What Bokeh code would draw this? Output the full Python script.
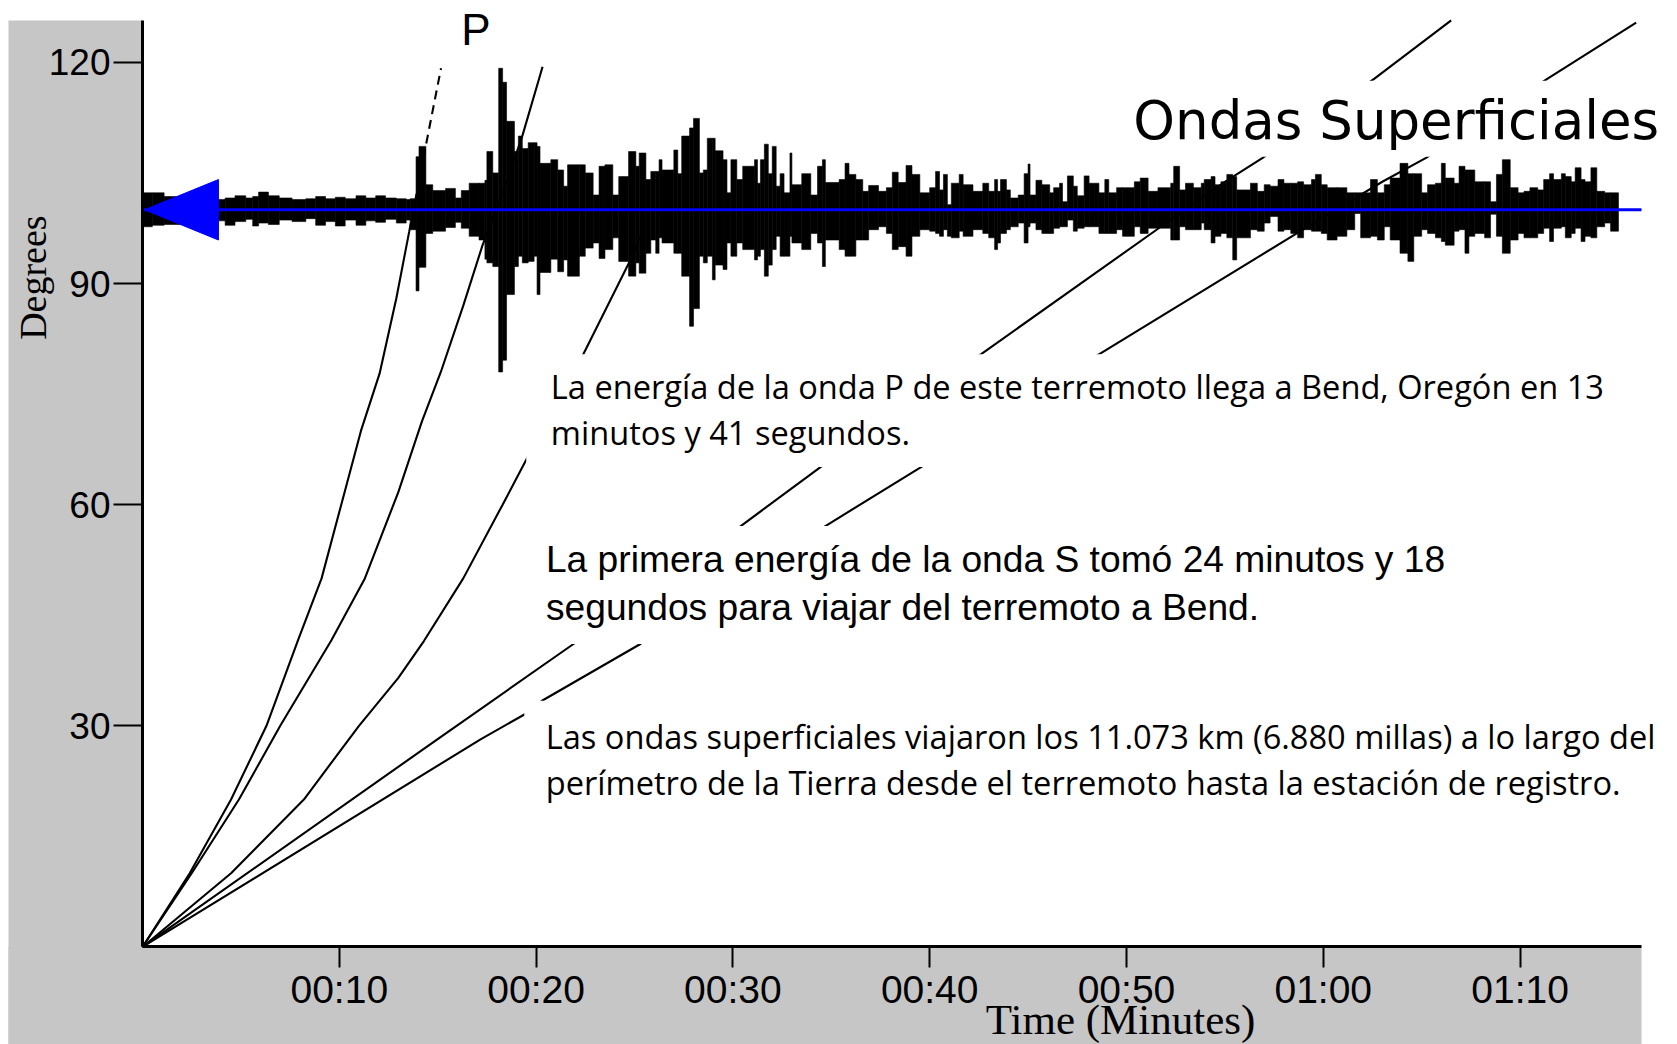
import math
from bokeh.plotting import figure
from bokeh.models import Range1d, FixedTicker, Label, ColumnDataSource
from bokeh.embed import file_html
from bokeh.resources import INLINE

# ---------------- data ----------------
# travel-time curves: time (minutes) vs distance (degrees)
p_time = [0, 2.4, 4.5, 6.3, 7.9, 9.1, 10.1, 11.1, 12.05, 12.9, 13.55]
p_deg = [0, 10, 20, 30, 41.6, 50, 60, 70, 77.8, 88, 97.0]
p_top_time = [13.55, 14.5, 15.17]
p_top_deg = [97.0, 110.1, 119.2]

pp_time = [0, 2.5, 4.9, 7.0, 9.6, 11.3, 13.0, 14.2, 15.16, 16.3, 17.28, 18.4, 19.31, 20.33]
pp_deg = [0, 10, 20, 30, 41.6, 50, 61.7, 71.3, 78.0, 87, 95.2, 103, 110.1, 119.4]

s_time = [0, 4.5, 8.2, 11.0, 13.0, 14.3, 16.3, 18.3, 19.64, 22.4, 24.85, 25.3]
s_deg = [0, 10, 20, 30, 36.5, 41.5, 50, 60, 66.8, 80.4, 93.5, 96.5]

love_time = [0, 15.0, 21.9, 30.4, 34.4, 42.6, 51.8, 55.0, 56.9, 62.6, 66.5]
love_deg = [0, 28.2, 41.1, 57.1, 65.0, 80.4, 97.8, 103.8, 107.0, 117.8, 125.7]

rayl_time = [0, 17.2, 19.45, 20.3, 25.3, 34.7, 39.5, 48.6, 58.9, 63.0, 65.2, 71.4, 75.9]
rayl_deg = [0, 28.2, 31.6, 33.4, 41.1, 57.1, 65.0, 80.4, 97.2, 103.8, 107.0, 117.8, 125.4]

# seismogram envelope (bar start time in minutes, top and bottom in degrees)
trace_t = [0.0, 0.5, 1.1, 2.0, 3.8, 4.2, 4.7, 5.25, 5.6, 5.9, 6.4, 6.95, 7.6, 8.3, 8.8, 9.3, 9.8,
           10.3, 10.85, 11.35, 11.85, 12.35, 12.9, 13.4, 13.6, 13.9, 14.05, 14.4, 14.75, 15.4, 15.9,
           16.2, 16.6, 17.1, 17.4, 17.5, 17.8, 18.1, 18.3, 18.5, 18.9, 19.1, 19.3, 19.6, 19.9, 20.05,
           20.2, 20.75, 21.1, 21.4, 21.6, 22.2, 22.5, 22.9, 23.2, 23.5, 23.9, 24.2, 24.7, 25.07,
           25.24, 25.58, 25.83, 26.08, 26.25, 26.4, 27.0, 27.2, 27.4, 27.8, 28.0, 28.3, 28.5, 28.7,
           28.96, 29.1, 29.5, 29.7, 29.9, 30.2, 30.5, 31.1, 31.25, 31.4, 31.6, 31.8, 32.0, 32.2,
           32.4, 32.6, 32.9, 33.0, 33.5, 33.96, 34.3, 34.55, 34.7, 35.4, 35.7, 35.9, 36.25, 36.6,
           36.9, 37.4, 37.8, 38.1, 38.4, 38.8, 39.1, 39.5, 40.0, 40.3, 40.5, 40.7, 40.9, 41.1,
           41.5, 41.7, 42.2, 42.7, 43.0, 43.3, 43.45, 43.6, 43.9, 44.1, 44.5, 44.8, 45.0, 45.1,
           45.4, 45.7, 46.1, 46.3, 46.6, 46.75, 47.0, 47.3, 47.5, 47.85, 48.1, 48.6, 48.9, 49.1,
           49.5, 49.8, 50.4, 50.7, 51.1, 51.6, 52.25, 52.4, 52.7, 53.0, 53.4, 53.8, 53.95, 54.3,
           54.5, 54.8, 55.1, 55.4, 55.6, 56.3, 56.65, 57.0, 57.3, 57.7, 58.0, 58.35, 58.7, 59.0,
           59.4, 59.6, 59.9, 60.2, 60.7, 61.2, 61.6, 61.9, 62.4, 62.75, 63.1, 63.4, 63.9, 64.3,
           64.6, 65.0, 65.3, 65.7, 66.0, 66.2, 66.65, 66.9, 67.2, 67.4, 67.7, 68.2, 68.5, 68.8,
           69.1, 69.5, 69.9, 70.2, 70.5, 70.9, 71.2, 71.5, 71.7, 72.1, 72.3, 72.6, 72.8, 73.1,
           73.3, 73.6, 73.9, 74.3, 74.6]
trace_end = 75.0
trace_hi = [102.3, 102.3, 101.8, 101.6, 101.4, 101.6, 101.9, 101.6, 101.8, 102.4, 101.9, 101.6, 101.4,
            101.5, 101.8, 101.5, 101.7, 101.5, 101.9, 101.6, 101.9, 101.6, 101.5, 101.4, 101.5, 107.2,
            108.6, 103.4, 102.6, 102.9, 101.6, 102.6, 103.6, 103.6, 104.0, 107.9, 105.0, 119.2, 117.3,
            112.0, 107.9, 110.0, 108.3, 109.1, 109.1, 108.6, 106.3, 106.8, 105.4, 103.2, 106.1, 106.1,
            105.0, 102.0, 105.9, 106.1, 102.0, 104.5, 107.9, 105.9, 107.7, 104.1, 105.2, 105.2, 106.8,
            105.4, 108.1, 104.9, 110.0, 111.1, 112.4, 105.0, 105.4, 109.7, 109.7, 108.0, 106.8, 102.3,
            106.8, 104.1, 105.9, 106.8, 103.6, 106.8, 108.9, 104.9, 108.6, 103.2, 104.9, 102.3, 107.7,
            103.4, 104.9, 102.0, 105.9, 106.8, 103.7, 104.1, 106.3, 104.8, 104.1, 102.5, 103.3, 102.5,
            103.0, 105.1, 103.7, 106.0, 104.8, 102.3, 103.0, 105.2, 102.7, 104.8, 100.7, 103.6, 104.8,
            103.4, 102.5, 103.6, 102.5, 104.1, 102.5, 104.1, 102.7, 101.6, 102.0, 104.9, 106.2, 102.0,
            104.0, 103.4, 102.3, 103.0, 103.6, 101.1, 104.6, 103.2, 101.9, 104.6, 103.6, 102.3, 104.1,
            102.3, 103.0, 103.0, 103.8, 104.3, 102.5, 103.0, 103.6, 105.9, 102.7, 103.6, 103.0, 103.6,
            104.1, 104.5, 103.4, 103.8, 104.8, 104.5, 102.7, 103.6, 102.5, 103.4, 103.2, 104.1, 103.6,
            103.6, 103.8, 103.4, 104.1, 104.8, 103.4, 103.0, 103.0, 102.3, 102.3, 102.3, 104.1, 102.3,
            103.4, 104.3, 106.3, 104.9, 104.9, 102.3, 103.4, 103.6, 106.3, 104.3, 103.6, 105.9, 105.4,
            105.4, 103.8, 103.8, 101.1, 104.8, 106.8, 103.0, 102.3, 102.5, 103.0, 102.7, 104.1, 104.9,
            104.1, 104.9, 104.5, 103.8, 105.7, 104.1, 103.8, 105.7, 102.5, 102.3, 102.3]
trace_lo = [97.7, 97.9, 98.0, 98.2, 98.5, 97.9, 98.4, 98.7, 97.8, 98.2, 98.0, 98.6, 98.4, 98.8, 97.9,
            98.4, 97.8, 98.6, 97.9, 98.5, 98.3, 98.7, 98.2, 98.6, 97.3, 89.0, 92.2, 96.8, 97.1, 97.6,
            98.3, 97.5, 96.4, 95.9, 93.3, 92.8, 92.3, 78.0, 79.6, 88.5, 92.3, 93.7, 92.8, 93.0, 93.7,
            88.5, 91.5, 93.3, 91.6, 93.2, 91.0, 93.7, 94.8, 95.5, 93.4, 94.6, 96.2, 93.0, 91.0, 92.8,
            91.4, 94.1, 95.9, 94.1, 96.2, 95.5, 94.1, 94.1, 91.0, 84.2, 86.6, 93.7, 92.8, 93.7, 90.5,
            92.5, 91.9, 95.5, 93.7, 95.5, 94.6, 93.2, 93.7, 94.6, 91.0, 92.5, 94.6, 96.4, 93.7, 93.7,
            96.4, 95.5, 94.6, 96.8, 95.5, 92.3, 95.9, 94.6, 93.7, 93.7, 95.9, 95.9, 97.3, 97.7, 96.8,
            94.6, 95.0, 93.7, 96.4, 97.3, 97.1, 96.8, 96.4, 97.3, 96.4, 96.2, 97.1, 96.4, 97.3, 96.8,
            96.2, 94.6, 95.5, 96.8, 97.3, 97.7, 98.2, 95.5, 97.7, 98.2, 97.3, 96.8, 96.8, 97.5, 97.7,
            97.7, 98.6, 97.1, 97.5, 97.7, 97.7, 96.8, 96.8, 96.8, 97.3, 96.4, 97.7, 96.8, 97.5, 97.5,
            95.9, 95.9, 97.7, 97.3, 97.3, 98.2, 97.3, 95.5, 96.4, 96.8, 96.2, 93.2, 96.2, 97.3, 97.1,
            98.2, 99.1, 97.1, 97.3, 96.8, 96.2, 97.3, 97.1, 97.1, 96.8, 95.9, 96.4, 97.3, 99.5, 96.2,
            96.4, 95.9, 97.7, 95.9, 94.1, 93.0, 96.4, 97.3, 96.8, 96.2, 95.7, 95.2, 97.1, 97.3, 94.1,
            96.4, 96.8, 96.2, 99.4, 96.4, 94.1, 95.9, 96.8, 96.2, 96.2, 96.8, 97.5, 95.7, 97.5, 97.7,
            96.2, 96.8, 97.5, 95.7, 96.4, 96.2, 97.7, 98.2, 97.1]

baseline_deg = 100
arrow_time = [0.1, 3.86, 3.86]
arrow_deg = [100, 104.1, 95.9]

x_ticks = [10, 20, 30, 40, 50, 60, 70]
x_tick_labels = ["00:10", "00:20", "00:30", "00:40", "00:50", "01:00", "01:10"]
y_ticks = [30, 60, 90, 120]
y_tick_labels = ["30", "60", "90", "120"]

text_p = ["La energía de la onda P de este terremoto llega a Bend, Oregón en 13",
          "minutos y 41 segundos."]
text_s = ["La primera energía de la onda S tomó 24 minutos y 18",
          "segundos para viajar del terremoto a Bend."]
text_surf = ["Las ondas superficiales viajaron los 11.073 km (6.880 millas) a lo largo del",
             "perímetro de la Tierra desde el terremoto hasta la estación de registro."]

# ---------------- figure ----------------
GRAY = "#c6c6c6"
X_END = 76.17      # end of the time axis
Y_TOP = 125.68     # top of the degree axis
p = figure(width=1677, height=1044, x_range=Range1d(-7.215, 78.0), y_range=Range1d(-13.23, 128.39),
           output_backend="svg", toolbar_location=None, title=None, min_border=0)
p.border_fill_color = "white"
p.background_fill_color = "white"
p.outline_line_color = None
p.xgrid.visible = False
p.ygrid.visible = False

# gray panel (left strip and bottom strip)
p.quad(left=[-6.81, -6.81], right=[0, X_END], bottom=[-13.3, -13.3], top=[Y_TOP, 0],
       fill_color=GRAY, line_color=None)

for ax, ticks, labels, tick_out, standoff, size, bnds in (
        (p.xaxis[0], x_ticks, x_tick_labels, 21, 0, "39px", (0, X_END)),
        (p.yaxis[0], y_ticks, y_tick_labels, 29, 3, "37px", (0, Y_TOP))):
    ax.fixed_location = 0
    ax.bounds = bnds
    ax.ticker = FixedTicker(ticks=ticks)
    ax.major_label_overrides = {t: l for t, l in zip(ticks, labels)}
    ax.axis_line_width = 3
    ax.axis_line_color = "black"
    ax.major_tick_line_width = 2
    ax.major_tick_out = tick_out
    ax.major_tick_in = 0
    ax.minor_tick_line_color = None
    ax.major_label_standoff = standoff
    ax.major_label_text_font = "Liberation Sans"
    ax.major_label_text_font_size = size
    ax.major_label_text_color = "black"

# travel-time curves
for tt, dd in ((p_time, p_deg), (pp_time, pp_deg), (s_time, s_deg),
               (love_time, love_deg), (rayl_time, rayl_deg)):
    p.line(tt, dd, line_color="black", line_width=2.1)
p.line(p_top_time, p_top_deg, line_color="black", line_width=2.1, line_dash="9 6")

# white text boxes hiding the curves
p.quad(left=[19.5, 19.5, 19.4, 49.5], right=[75.0, 68.0, 78.0, 78.0],
       bottom=[65.1, 41.1, 14.0, 107.2], top=[80.4, 57.1, 33.4, 117.5],
       fill_color="white", line_color=None)

# seismogram
src = ColumnDataSource(dict(left=trace_t, right=trace_t[1:] + [trace_end], top=trace_hi, bottom=trace_lo))
p.quad(left="left", right="right", top="top", bottom="bottom", source=src,
       fill_color="black", line_color="black", line_width=0.6)

p.line([0, X_END], [baseline_deg, baseline_deg], line_color="#0000ff", line_width=3)
p.patch(arrow_time, arrow_deg, fill_color="#0000ff", line_color="#0000ff")

# texts
def add_label(x, y, text, font, size, align="left", baseline="alphabetic", angle=0):
    p.add_layout(Label(x=x, y=y, text=text, text_font=font, text_font_size=size,
                       text_align=align, text_baseline=baseline, angle=angle, text_color="black"))

add_label(16.94, 124.4, "P", "Liberation Sans", "44px", align="center")
add_label(50.35, 112.1, "Ondas Superficiales", "DejaVu Sans", "53px")
add_label(20.75, 75.97, text_p[0], "Open Sans", "32.6px")
add_label(20.75, 69.73, text_p[1], "Open Sans", "32.6px")
add_label(20.5, 52.58, text_s[0], "Liberation Sans", "37.2px")
add_label(20.5, 46.05, text_s[1], "Liberation Sans", "37.2px")
add_label(20.49, 28.57, text_surf[0], "Open Sans", "32.6px")
add_label(20.49, 22.33, text_surf[1], "Open Sans", "32.6px")
add_label(-5.54, 90.8, "Degrees", "Liberation Serif", "38px", align="center", baseline="middle",
          angle=math.pi / 2)
add_label(49.7, -9.8, "Time (Minutes)", "Liberation Serif", "43px", align="center")

open("out.html", "w").write(file_html(p, INLINE))
